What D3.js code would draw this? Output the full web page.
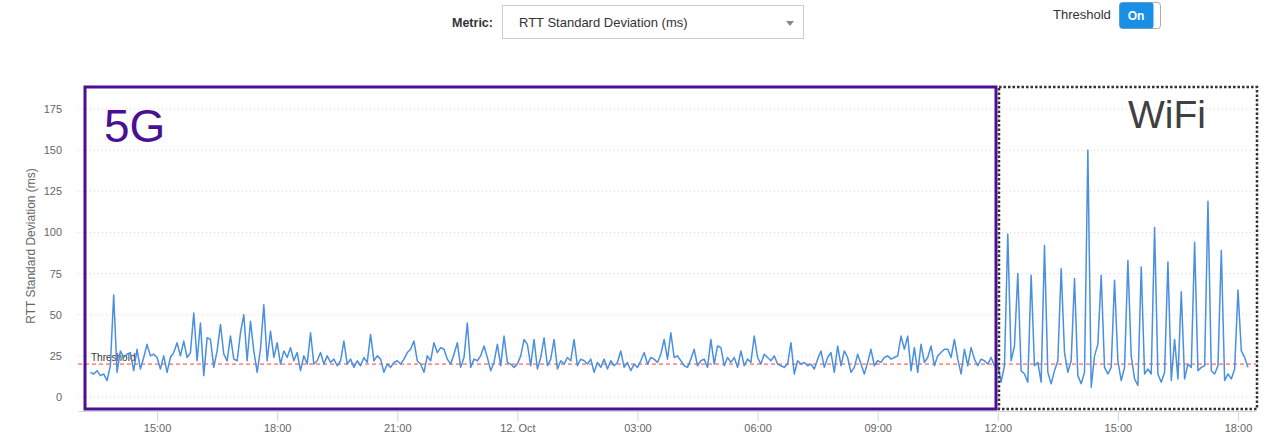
<!DOCTYPE html>
<html>
<head>
<meta charset="utf-8">
<script src="https://cdn.jsdelivr.net/npm/d3@7"></script>
<style>
body { margin: 0; background: #fff; font-family: "Liberation Sans", Arial, sans-serif; }
</style>
</head>
<body>
<script>
// Series values (ms), one reading every 5 minutes.
const STEP_MIN = 5;
const fiveGStart = new Date(2020, 9, 11, 13, 20);
const fiveGValues = [
  15,14,16,13,14,10,19,62,15,28,
  24,26,27,16,29,17,24,32,25,26,
  24,17,25,15,24,27,33,25,34,24,
  27,51,22,45,13,36,35,18,28,44,
  26,22,37,23,22,39,50,22,46,28,
  15,29,56,22,40,24,33,20,28,24,
  30,22,27,16,25,20,39,20,22,27,
  20,25,21,23,19,22,34,20,23,18,
  22,19,24,21,38,22,25,23,15,20,
  18,21,22,20,23,27,29,34,22,20,
  15,25,22,33,27,30,29,23,20,26,
  33,18,24,45,18,23,22,25,31,24,
  16,21,32,19,37,21,20,18,20,25,
  35,32,19,35,17,24,36,19,23,35,
  17,22,20,24,22,35,19,23,22,20,
  23,15,21,18,23,17,22,19,21,28,
  18,21,16,20,18,22,27,20,24,23,
  21,26,35,23,39,24,25,22,19,18,
  23,29,19,22,23,18,35,20,31,30,
  19,24,21,24,18,28,19,23,21,37,
  24,20,26,24,22,25,20,19,18,20,
  33,14,22,20,21,19,20,17,23,28,
  18,24,27,15,31,19,28,24,15,18,
  26,20,14,21,29,19,22,21,24,25,
  23,24,25,37,29,37,16,30,15,32,
  21,24,31,19,25,27,29,29,24,35,
  23,14,29,19,30,23,19,23,22,20,
  24,19
];
const wifiStart = new Date(2020, 9, 12, 12, 0);
const wifiValues = [
  20,9,19,99,22,31,75,16,14,9,
  74,19,21,9,92,15,8,16,22,78,
  27,15,22,72,13,8,15,150,6,25,
  32,74,18,14,18,71,22,10,18,83,
  25,11,7,79,14,17,14,103,14,9,
  15,82,10,35,11,64,11,20,18,94,
  16,18,19,119,16,14,19,89,10,14,
  11,17,65,28,24,18
];
const yTicks = [0, 25, 50, 75, 100, 125, 150, 175];
const thresholdValue = 20;
const metricLabel = "RTT Standard Deviation (ms)";
const yTitle = "RTT Standard Deviation (ms)";

// Build time/value pairs
function toPoints(start, values) {
  return values.map((v, i) => ({ t: d3.timeMinute.offset(start, i * STEP_MIN), v: v }));
}
const points = toPoints(fiveGStart, fiveGValues).concat(toPoints(wifiStart, wifiValues));

const WIDTH = 1273, HEIGHT = 437;
const svg = d3.select("body").append("svg").attr("width", WIDTH).attr("height", HEIGHT);

// Scales
const x = d3.scaleTime()
  .domain([new Date(2020, 9, 11, 13, 1, 30), new Date(2020, 9, 12, 18, 27)])
  .range([78, 1256]);
const y = d3.scaleLinear().domain([0, 175]).range([397, 109]);

// Gridlines
svg.append("g").selectAll("line").data(yTicks).enter().append("line")
  .attr("x1", 78).attr("x2", 1256)
  .attr("y1", d => y(d)).attr("y2", d => y(d))
  .attr("stroke", "#d6d6d6").attr("stroke-dasharray", "1,3");

// Y labels
svg.append("g").selectAll("text").data(yTicks).enter().append("text")
  .attr("x", 62).attr("y", d => y(d) + 4)
  .attr("text-anchor", "end")
  .attr("font-size", 11).attr("fill", "#666")
  .text(d => d);

svg.append("text")
  .attr("transform", "translate(35,246) rotate(-90)")
  .attr("text-anchor", "middle")
  .attr("font-size", 12).attr("fill", "#666")
  .text(yTitle);

// X axis
const fmtHour = d3.timeFormat("%H:%M"), fmtDay = d3.timeFormat("%-d. %b");
const xAxis = d3.axisBottom(x)
  .ticks(d3.timeHour.every(3))
  .tickSize(10).tickSizeOuter(0)
  .tickFormat(d => d.getHours() === 0 ? fmtDay(d) : fmtHour(d));
const gx = svg.append("g").attr("transform", "translate(0,411)").call(xAxis);
gx.select(".domain").attr("stroke", "#ccd6eb");
gx.selectAll(".tick line").attr("stroke", "#ccd6eb");
gx.selectAll(".tick text").attr("fill", "#666").attr("font-size", 11)
  .attr("font-family", "'Liberation Sans', Arial, sans-serif");

// Threshold
svg.append("line")
  .attr("x1", 78).attr("x2", 1256)
  .attr("y1", y(thresholdValue)).attr("y2", y(thresholdValue))
  .attr("stroke", "#ff3b3b").attr("stroke-width", 1).attr("stroke-dasharray", "4,3");
svg.append("text")
  .attr("x", 91).attr("y", y(thresholdValue) - 3)
  .attr("font-size", 10).attr("fill", "#333")
  .text("Threshold");

// Series line
const line = d3.line().x(d => x(d.t)).y(d => y(d.v));
svg.append("path").datum(points)
  .attr("d", line)
  .attr("fill", "none")
  .attr("stroke", "#4a8fe0")
  .attr("stroke-width", 1.5)
  .attr("stroke-linejoin", "round");

// 5G and WiFi boxes
const purple = "#4b0f92";
svg.append("rect").attr("x", 85).attr("y", 87).attr("width", 911).attr("height", 322)
  .attr("fill", "none").attr("stroke", purple).attr("stroke-width", 3);
svg.append("text").attr("x", 104).attr("y", 142)
  .attr("font-size", 46).attr("fill", purple).text("5G");

svg.append("rect").attr("x", 999).attr("y", 87).attr("width", 258).attr("height", 322)
  .attr("fill", "none").attr("stroke", "#333").attr("stroke-width", 2.5)
  .attr("stroke-dasharray", "2.5,2");
svg.append("text").attr("x", 1128).attr("y", 128)
  .attr("font-size", 39).attr("fill", "#404040").text("WiFi");

// Top controls
svg.append("text").attr("x", 452).attr("y", 27)
  .attr("font-size", 12.5).attr("font-weight", "bold").attr("fill", "#333").text("Metric:");
svg.append("rect").attr("x", 502.5).attr("y", 5.5).attr("width", 301).attr("height", 33)
  .attr("fill", "#fff").attr("stroke", "#ccc");
svg.append("text").attr("x", 519).attr("y", 27)
  .attr("font-size", 13).attr("fill", "#333").text(metricLabel);
svg.append("path").attr("d", "M786,21 L794,21 L790,26 Z").attr("fill", "#888");

svg.append("text").attr("x", 1053).attr("y", 19)
  .attr("font-size", 13).attr("fill", "#333").text("Threshold");
svg.append("rect").attr("x", 1119.5).attr("y", 2.5).attr("width", 41).attr("height", 26).attr("rx", 3)
  .attr("fill", "#fff").attr("stroke", "#aaa");
svg.append("rect").attr("x", 1119.5).attr("y", 2.5).attr("width", 34).attr("height", 26).attr("rx", 3)
  .attr("fill", "#1a8fe6");
svg.append("text").attr("x", 1136).attr("y", 20).attr("text-anchor", "middle")
  .attr("font-size", 12).attr("font-weight", "bold").attr("fill", "#fff").text("On");
</script>
</body>
</html>
